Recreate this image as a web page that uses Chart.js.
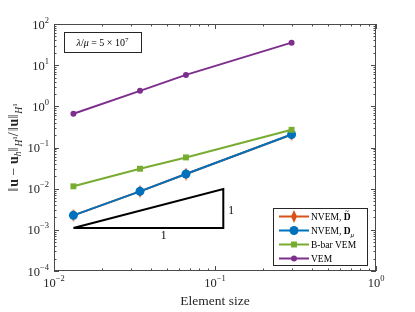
<!DOCTYPE html>
<html>
<head>
<meta charset="utf-8">
<script src="https://cdn.jsdelivr.net/npm/chart.js@4.4.0/dist/chart.umd.min.js"></script>
<style>
  body { margin: 0; background: #fff; }
  canvas { display: block; }
</style>
</head>
<body>
<canvas id="errChart" width="415" height="312"></canvas>
<script>
// values
const elementSize = [0.0132, 0.0342, 0.066, 0.299]
const nvemTilde = [0.00225, 0.0086, 0.0227, 0.207]
const nvemMu = [0.00225, 0.0086, 0.0227, 0.207]
const bbarVem = [0.0114, 0.0305, 0.0574, 0.269]
const vem = [0.66, 2.38, 5.8, 35.2]

// slope triangle
const triangleX = [0.0132, 0.1126, 0.1126, 0.0132]
const triangleY = [0.00111, 0.00111, 0.00985, 0.00111]
const triangleLabels = [
  { text: '1', x: 0.048, y: 0.00073 },
  { text: '1', x: 0.126, y: 0.0031 }
]

const xTickExp = [-2, -1, 0]
const yTickExp = [-4, -3, -2, -1, 0, 1, 2]

const colors = ['#D95319', '#0072BD', '#77AC30', '#7E2F8E']
const SERIF = '"Liberation Serif", "DejaVu Serif", serif'

const toPoints = (xs, ys) => xs.map((x, i) => ({ x: x, y: ys[i] }))

// tall thin diamond like matlab's 'd' marker
const diamond = document.createElement('canvas')
diamond.width = 6
diamond.height = 13
{
  const d = diamond.getContext('2d')
  d.fillStyle = colors[0]
  d.beginPath()
  d.moveTo(3, 0)
  d.lineTo(6, 6.5)
  d.lineTo(3, 13)
  d.lineTo(0, 6.5)
  d.closePath()
  d.fill()
}

const fontOf = (r) => (r.style || '') + ' ' + (r.weight || '') + ' ' + (r.size || 12) + 'px ' + SERIF

// draws a row of text pieces (for sub/superscripts)
function drawRuns(ctx, runs, x, y, align) {
  let w = 0
  runs.forEach(r => {
    ctx.font = fontOf(r)
    r.w = ctx.measureText(r.t).width + (r.gap || 0)
    w += r.w
  })
  let cx = align === 'center' ? x - w / 2 : align === 'right' ? x - w : x
  runs.forEach(r => {
    ctx.font = fontOf(r)
    ctx.fillText(r.t, cx, y + (r.dy || 0))
    if (r.tilde) {
      ctx.font = (r.size || 12) * 0.8 + 'px ' + SERIF
      ctx.textAlign = 'center'
      ctx.fillText('~', cx + r.w / 2, y - (r.size || 12) * 0.62)
      ctx.textAlign = 'left'
    }
    cx += r.w
  })
}

const powerRuns = (e, size) => [
  { t: '10', size: size },
  { t: e < 0 ? '\u2212' + (-e) : String(e), size: size * 0.68, dy: -size * 0.48 }
]

const legendRuns = [
  [{ t: 'NVEM, ', size: 9.5 }, { t: 'D', size: 9.5, weight: 'bold', tilde: true }],
  [{ t: 'NVEM, ', size: 9.5 }, { t: 'D', size: 9.5, weight: 'bold' }, { t: '\u03bc', size: 7, style: 'italic', dy: 2.5 }],
  [{ t: 'B-bar VEM', size: 9.5 }],
  [{ t: 'VEM', size: 9.5 }]
]
const legendMarkers = [
  { style: diamond, r: 0 },
  { style: 'circle', r: 4.5 },
  { style: 'rect', r: 4.2 },
  { style: 'circle', r: 3 }
]

const matlabAxes = {
  id: 'matlabAxes',
  afterDraw(chart) {
    const ctx = chart.ctx
    const a = chart.chartArea
    const xs = chart.scales.x
    const ys = chart.scales.y
    ctx.save()
    ctx.strokeStyle = '#4a4a4a'
    ctx.lineWidth = 1
    ctx.strokeRect(a.left + 0.5, a.top + 0.5, a.right - a.left - 1, a.bottom - a.top - 1)

    ctx.beginPath()
    // x ticks (top and bottom, inward)
    for (let e = -2; e <= 0; e++) {
      for (let m = 1; m <= 9; m++) {
        const v = m * Math.pow(10, e)
        if (v > 1.0001) break
        const px = Math.round(xs.getPixelForValue(v)) + 0.5
        const len = m === 1 ? 5 : 2.5
        ctx.moveTo(px, a.bottom); ctx.lineTo(px, a.bottom - len)
        ctx.moveTo(px, a.top); ctx.lineTo(px, a.top + len)
      }
    }
    // y ticks (left and right, inward)
    for (let e = -4; e <= 2; e++) {
      for (let m = 1; m <= 9; m++) {
        const v = m * Math.pow(10, e)
        if (v > 100.001) break
        const py = Math.round(ys.getPixelForValue(v)) + 0.5
        const len = m === 1 ? 5 : 2.5
        ctx.moveTo(a.left, py); ctx.lineTo(a.left + len, py)
        ctx.moveTo(a.right, py); ctx.lineTo(a.right - len, py)
      }
    }
    ctx.stroke()

    // tick labels
    ctx.fillStyle = '#262626'
    ctx.textBaseline = 'alphabetic'
    ctx.textAlign = 'left'
    xTickExp.forEach(e => {
      drawRuns(ctx, powerRuns(e, 12.5), xs.getPixelForValue(Math.pow(10, e)), a.bottom + 16, 'center')
    })
    yTickExp.forEach(e => {
      drawRuns(ctx, powerRuns(e, 12.5), a.left - 5, ys.getPixelForValue(Math.pow(10, e)) + 4.5, 'right')
    })

    // axis titles
    ctx.font = '13.5px ' + SERIF
    ctx.textAlign = 'center'
    ctx.fillText('Element size', (a.left + a.right) / 2, 305)
    ctx.textAlign = 'left'

    ctx.save()
    ctx.translate(18, (a.top + a.bottom) / 2)
    ctx.rotate(-Math.PI / 2)
    const bar = { t: '\u2016', size: 14, gap: 1 }
    drawRuns(ctx, [
      bar, { t: 'u', size: 14, weight: 'bold' }, { t: ' \u2212 ', size: 14 },
      { t: 'u', size: 14, weight: 'bold' }, { t: 'h', size: 9.5, style: 'italic', dy: 3 },
      bar, { t: 'H', size: 9.5, style: 'italic', dy: 3.5 }, { t: '1', size: 7, dy: -1 },
      { t: '/', size: 14, gap: 1 }, bar, { t: 'u', size: 14, weight: 'bold' },
      bar, { t: 'H', size: 9.5, style: 'italic', dy: 3.5 }, { t: '1', size: 7, dy: -1 }
    ], 0, 0, 'center')
    ctx.restore()

    // slope triangle labels
    ctx.fillStyle = '#000'
    triangleLabels.forEach(l => {
      drawRuns(ctx, [{ t: l.text, size: 11.5 }], xs.getPixelForValue(l.x), ys.getPixelForValue(l.y) + 4, 'center')
    })

    // parameter box
    ctx.fillStyle = '#fff'
    ctx.fillRect(a.left + 10, a.top + 8, 77, 20)
    ctx.strokeStyle = '#262626'
    ctx.strokeRect(a.left + 10.5, a.top + 8.5, 77, 20)
    ctx.fillStyle = '#000'
    drawRuns(ctx, [
      { t: '\u03bb', size: 10, style: 'italic' }, { t: '/', size: 10 }, { t: '\u03bc', size: 10, style: 'italic' },
      { t: ' = 5 \u00d7 10', size: 10 }, { t: '7', size: 7, dy: -4 }
    ], a.left + 48.5, a.top + 21.5, 'center')

    // legend box
    const lx = 273, ly = 208, lw = 94, lh = 57
    ctx.fillStyle = '#fff'
    ctx.fillRect(lx, ly, lw, lh)
    ctx.strokeStyle = '#262626'
    ctx.strokeRect(lx + 0.5, ly + 0.5, lw, lh)
    legendRuns.forEach((runs, i) => {
      const cy = ly + 8.5 + i * 14
      ctx.strokeStyle = colors[i]
      ctx.lineWidth = 2
      ctx.beginPath()
      ctx.moveTo(lx + 6, cy)
      ctx.lineTo(lx + 36, cy)
      ctx.stroke()
      ctx.fillStyle = colors[i]
      const mk = legendMarkers[i]
      Chart.helpers.drawPoint(ctx, { pointStyle: mk.style, radius: mk.r, borderWidth: 0, rotation: 0 }, lx + 21, cy)
      ctx.fillStyle = '#000'
      drawRuns(ctx, runs, lx + 38, cy + 3.5, 'left')
    })
    ctx.restore()
  }
}

const lineSet = (label, ys, color, style, radius, order) => ({
  label: label,
  data: toPoints(elementSize, ys),
  borderColor: color,
  backgroundColor: color,
  borderWidth: 2,
  pointStyle: style,
  pointRadius: radius,
  pointBorderWidth: 0,
  showLine: true,
  order: order
})

new Chart(document.getElementById('errChart'), {
  type: 'scatter',
  data: {
    datasets: [
      lineSet('NVEM, D~', nvemTilde, colors[0], diamond, 5, 3),
      lineSet('NVEM, D_mu', nvemMu, colors[1], 'circle', 4.5, 2),
      lineSet('B-bar VEM', bbarVem, colors[2], 'rect', 4.2, 1),
      lineSet('VEM', vem, colors[3], 'circle', 3, 1),
      {
        label: 'slope',
        data: toPoints(triangleX, triangleY),
        borderColor: '#000',
        borderWidth: 2,
        pointRadius: 0,
        showLine: true,
        order: 0
      }
    ]
  },
  options: {
    responsive: false,
    animation: false,
    layout: { padding: { left: 54, right: 39, top: 24, bottom: 41 } },
    plugins: { legend: { display: false }, tooltip: { enabled: false } },
    scales: {
      x: { type: 'logarithmic', min: 0.01, max: 1, display: false },
      y: { type: 'logarithmic', min: 1e-4, max: 100, display: false }
    }
  },
  plugins: [matlabAxes]
})
</script>
</body>
</html>
